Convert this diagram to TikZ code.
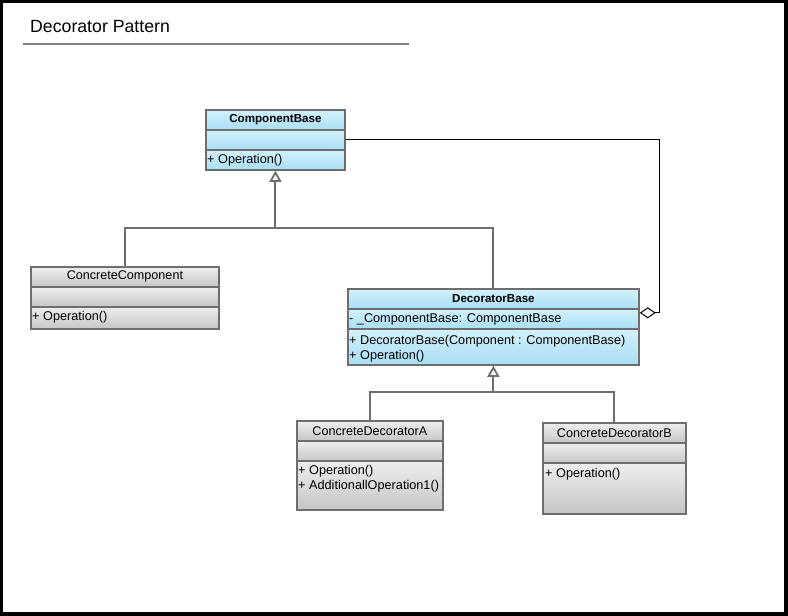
\documentclass[tikz,border=0pt]{standalone}
\usepackage{fontspec}
\setmainfont{Liberation Sans}
\usetikzlibrary{arrows.meta,calc}
\definecolor{bluetop}{HTML}{D4F1FC}
\definecolor{bluebot}{HTML}{A8DFF4}
\definecolor{graytop}{HTML}{EEEEEE}
\definecolor{graybot}{HTML}{C6C6C6}
\definecolor{boxline}{HTML}{6E6E6E}
\definecolor{rulegray}{HTML}{808080}

\begin{document}
\begin{tikzpicture}[x=1pt,y=-1pt,
  comp/.style={rectangle, draw=boxline, line width=1.8pt, inner sep=0pt,
    anchor=north west},
  bluecomp/.style={comp, top color=bluetop, bottom color=bluebot},
  graycomp/.style={comp, top color=graytop, bottom color=graybot},
  headbold/.style={font=\fontsize{11.6}{14}\selectfont\bfseries},
  headreg/.style={font=\fontsize{12.6}{14}\selectfont},
  member/.style={font=\fontsize{12.7}{15}\selectfont, anchor=base west, inner sep=0pt},
  genline/.style={draw=boxline, line width=2pt},
  genarrow/.style={genline, -{Triangle[open, length=11pt, width=12pt, line width=1.8pt]}},
  aggline/.style={draw=black, line width=1pt,
    {Diamond[open, length=16pt, width=11pt, line width=1pt]}-}
]
% page frame
\fill[black] (0,0) rectangle (788,616);
\fill[white] (3,3) rectangle (784,612);
\useasboundingbox (0,0) rectangle (788,616);

% title
\node[font=\fontsize{17.7}{20}\selectfont, anchor=base west, inner sep=0pt] (title) at (30,32) {Decorator Pattern};
\draw[rulegray, line width=1.2pt] (23,44) -- (409,44);

% ComponentBase
\node[bluecomp, minimum width=139pt, minimum height=20pt, headbold] (cbh) at (205,109) {ComponentBase};
\node[bluecomp, minimum width=139pt, minimum height=20pt] (cba) at (205,129) {};
\node[bluecomp, minimum width=139pt, minimum height=20pt] (cbo) at (205,149) {};
\node[member] (cbo1) at (207,163) {+ Operation()};

% ConcreteComponent
\node[graycomp, minimum width=188pt, minimum height=20pt, headreg] (cch) at (30,266) {ConcreteComponent};
\node[graycomp, minimum width=188pt, minimum height=20pt] (cca) at (30,286) {};
\node[graycomp, minimum width=188pt, minimum height=22pt] (cco) at (30,306) {};
\node[member] (cco1) at (32,320.5) {+ Operation()};

% DecoratorBase
\node[bluecomp, minimum width=291pt, minimum height=20pt, headbold] (dbh) at (347,288) {DecoratorBase};
\node[bluecomp, minimum width=291pt, minimum height=20pt] (dba) at (347,308) {};
\node[bluecomp, minimum width=291pt, minimum height=36pt] (dbo) at (347,328) {};
\node[member] (dba1) at (349,322.5) {- \_ComponentBase: ComponentBase};
\node[member] (dbo1) at (349,344) {+ DecoratorBase(Component : ComponentBase)};
\node[member] (dbo2) at (349,359) {+ Operation()};

% ConcreteDecoratorA
\node[graycomp, minimum width=146pt, minimum height=20pt, headreg] (dah) at (296,420) {ConcreteDecoratorA};
\node[graycomp, minimum width=146pt, minimum height=20pt] (daa) at (296,440) {};
\node[graycomp, minimum width=146pt, minimum height=49pt] (dao) at (296,460) {};
\node[member] (dao1) at (298,474) {+ Operation()};
\node[member] (dao2) at (298,489) {+ AdditionallOperation1()};

% ConcreteDecoratorB
\node[graycomp, minimum width=143pt, minimum height=20pt, headreg] (dbbh) at (542,422) {ConcreteDecoratorB};
\node[graycomp, minimum width=143pt, minimum height=20pt] (dbba) at (542,442) {};
\node[graycomp, minimum width=143pt, minimum height=51pt] (dbbo) at (542,462) {};
\node[member] (dbbo1) at (545,477) {+ Operation()};

% generalization: ConcreteComponent, DecoratorBase -> ComponentBase
\coordinate (j1) at (cbo.south |- 0,228);
\draw[genline] (cch.north) |- (j1) -| (dbh.north);
\draw[genarrow] (j1) -- (cbo.south);

% generalization: decorators -> DecoratorBase
\coordinate (j2) at (dbo.south |- 0,392);
\draw[genline] (dah.north) |- (j2) -| (dbbh.north);
\draw[genarrow] (j2) -- (dbo.south);

% aggregation: DecoratorBase holds a ComponentBase
\coordinate (k1) at (659,0 |- cba.east);
\draw[aggline] ($(dbh.south east)+(0,3)$) -| (k1) -- (cba.east);
\end{tikzpicture}
\end{document}
